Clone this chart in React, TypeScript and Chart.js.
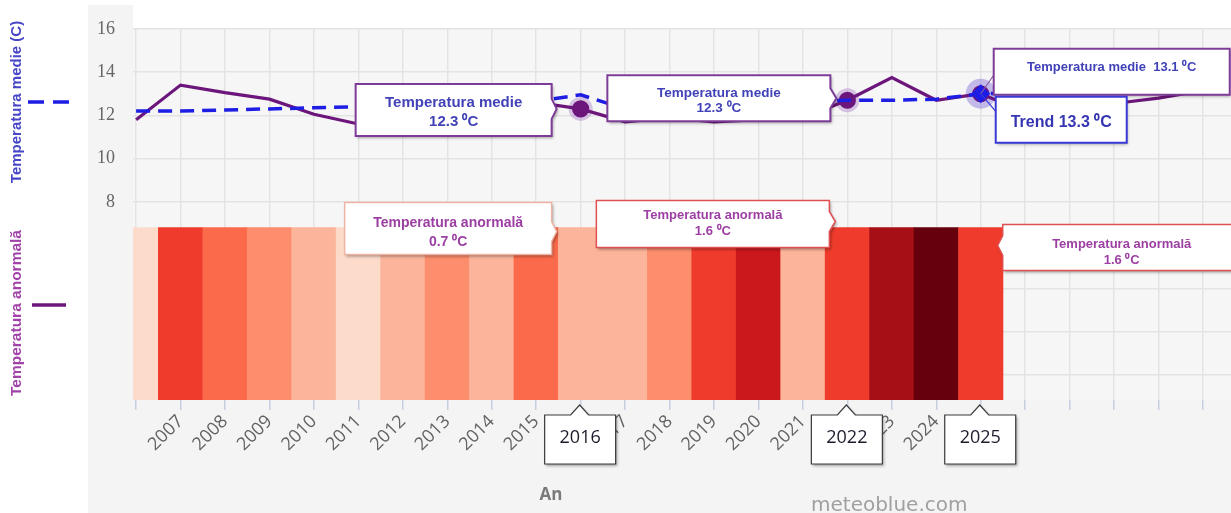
import React, { useEffect, useRef } from 'react';
import { Chart, registerables } from 'chart.js';

Chart.register(...registerables);

// ---------- data ----------
const years = [
  2006, 2007, 2008, 2009, 2010, 2011, 2012, 2013, 2014, 2015, 2016, 2017,
  2018, 2019, 2020, 2021, 2022, 2023, 2024, 2025, 2026, 2027, 2028, 2029, 2030,
];
const labelledYears = [
  2007, 2008, 2009, 2010, 2011, 2012, 2013, 2014, 2015, 2016, 2017, 2018,
  2019, 2020, 2021, 2022, 2023, 2024, 2025,
];
const meanTemp = [
  11.8, 13.4, 13.05, 12.75, 12.05, 11.6, 11.4, 11.9, 12.1, 12.6, 12.3, 11.7,
  11.9, 11.7, 11.8, 11.9, 12.7, 13.75, 12.7, 13.0, 12.15, 12.35, 12.55, 12.8, 13.15,
];
const trendTemp = [
  12.2, 12.2, 12.25, 12.3, 12.35, 12.4, 12.45, 12.5, 12.55, 12.65, 12.95, 12.3,
  12.4, 12.5, 12.55, 12.65, 12.7, 12.7, 12.75, 13.0, 13.05, 13.05, 13.1, 13.1, 13.15,
];
const stripeYears = [
  2006, 2007, 2008, 2009, 2010, 2011, 2012, 2013, 2014, 2015, 2016, 2017,
  2018, 2019, 2020, 2021, 2022, 2023, 2024, 2025,
];
const anomaly = [
  0.2, 1.6, 1.2, 0.9, 0.6, 0.2, 0.6, 0.9, 0.6, 1.2, 0.7, 0.7,
  0.9, 1.6, 1.9, 0.6, 1.6, 2.2, 2.6, 1.6,
];
const yTickLabels = [8, 10, 12, 14, 16];
const markedYears = [2016, 2022, 2025];

// ---------- scale settings ----------
const X_MIN = 2005.93;
const X_MAX = 2030.63;
const Y_MIN = -1.15;
const Y_MAX = 16;
const STRIPE_TOP = 6.82;

const PURPLE = '#6c167c';
const BLUE = '#1d1de4';
const MEDIE_TXT = '#4242b8';
const ANOM_TXT = '#9c3fa2';

function stripeColor(a: number): string {
  if (a < 0.4) return '#fddbcb';
  if (a < 0.8) return '#fcb59b';
  if (a < 1.0) return '#fc8d6d';
  if (a < 1.4) return '#fb6a4a';
  if (a < 1.8) return '#ef3b2c';
  if (a < 2.0) return '#cb181d';
  if (a < 2.4) return '#a50f15';
  return '#67000d';
}

type TextLine = { text: string; font: string; color: string; dy: number };
type Box = {
  l: number; t: number; r: number; b: number;
  side?: 'left' | 'right' | 'top';
  tx?: number; ty?: number; hw?: number;
  stroke: string; lw: number; shadow?: boolean; cx?: number;
};

function drawCallout(ctx: CanvasRenderingContext2D, o: Box, lines: TextLine[]) {
  const hw = o.hw ?? 9;
  ctx.save();
  ctx.beginPath();
  if (o.side === 'top' && o.tx !== undefined && o.ty !== undefined) {
    ctx.moveTo(o.l, o.t);
    ctx.lineTo(o.tx - hw, o.t);
    ctx.lineTo(o.tx, o.ty);
    ctx.lineTo(o.tx + hw, o.t);
    ctx.lineTo(o.r, o.t);
    ctx.lineTo(o.r, o.b);
    ctx.lineTo(o.l, o.b);
    ctx.closePath();
  } else if (o.side === 'right' && o.tx !== undefined && o.ty !== undefined) {
    ctx.moveTo(o.l, o.t);
    ctx.lineTo(o.r, o.t);
    ctx.lineTo(o.r, o.ty - hw);
    ctx.lineTo(o.tx, o.ty);
    ctx.lineTo(o.r, o.ty + hw);
    ctx.lineTo(o.r, o.b);
    ctx.lineTo(o.l, o.b);
    ctx.closePath();
  } else if (o.side === 'left' && o.tx !== undefined && o.ty !== undefined) {
    ctx.moveTo(o.l, o.t);
    ctx.lineTo(o.r, o.t);
    ctx.lineTo(o.r, o.b);
    ctx.lineTo(o.l, o.b);
    ctx.lineTo(o.l, o.ty + hw);
    ctx.lineTo(o.tx, o.ty);
    ctx.lineTo(o.l, o.ty - hw);
    ctx.closePath();
  } else {
    ctx.rect(o.l, o.t, o.r - o.l, o.b - o.t);
  }
  if (o.shadow) {
    ctx.shadowColor = 'rgba(0,0,0,0.35)';
    ctx.shadowBlur = 3;
    ctx.shadowOffsetX = 1.5;
    ctx.shadowOffsetY = 2;
  }
  ctx.fillStyle = '#ffffff';
  ctx.fill();
  ctx.shadowColor = 'transparent';
  ctx.lineWidth = o.lw;
  ctx.strokeStyle = o.stroke;
  ctx.stroke();
  const cx = o.cx ?? (o.l + o.r) / 2;
  ctx.textAlign = 'center';
  ctx.textBaseline = 'middle';
  for (const ln of lines) {
    ctx.font = ln.font;
    ctx.fillStyle = ln.color;
    ctx.fillText(ln.text, cx, o.t + ln.dy);
  }
  ctx.restore();
}

const decorPlugin = {
  id: 'decor',
  beforeDraw(chart: any) {
    const { ctx, width, height, chartArea: a } = chart;
    ctx.save();
    ctx.fillStyle = '#ffffff';
    ctx.fillRect(0, 0, width, height);
    ctx.fillStyle = '#f4f4f4';
    ctx.fillRect(88, 5, width - 88, height - 5);
    ctx.fillStyle = '#ffffff';
    ctx.fillRect(a.left, 0, width - a.left, a.top);
    ctx.fillStyle = '#f6f6f6';
    ctx.fillRect(a.left, a.top, a.right - a.left, a.bottom - a.top);
    ctx.restore();
  },
  beforeDatasetsDraw(chart: any) {
    const { ctx } = chart;
    const meta = chart.getDatasetMeta(1);
    ctx.save();
    for (const yr of markedYears) {
      const p = meta.data[years.indexOf(yr)];
      if (!p) continue;
      ctx.beginPath();
      ctx.fillStyle = yr === 2025 ? 'rgba(130,110,215,0.45)' : 'rgba(175,130,205,0.45)';
      ctx.arc(p.x, p.y, yr === 2025 ? 15 : 12, 0, Math.PI * 2);
      ctx.fill();
    }
    ctx.restore();
  },
  afterDraw(chart: any) {
    const { ctx, chartArea: a } = chart;
    const xs = chart.scales.x;
    const meanMeta = chart.getDatasetMeta(1);
    const trendMeta = chart.getDatasetMeta(0);
    const barMeta = chart.getDatasetMeta(2);
    const mp = (yr: number) => meanMeta.data[years.indexOf(yr)];
    const tp = (yr: number) => trendMeta.data[years.indexOf(yr)];
    const bp = (yr: number) => barMeta.data[stripeYears.indexOf(yr)];

    const fB = (s: number) => `bold ${s}px "Liberation Sans", Arial, sans-serif`;

    // leader lines at 2025
    const m25 = mp(2025);
    const t25 = tp(2025);
    ctx.save();
    ctx.lineWidth = 1.2;
    ctx.strokeStyle = '#8a5aa8';
    ctx.beginPath();
    ctx.moveTo(m25.x, m25.y);
    ctx.lineTo(m25.x + 14, m25.y - 20);
    ctx.stroke();
    ctx.strokeStyle = '#3a3ad8';
    ctx.beginPath();
    ctx.moveTo(t25.x, t25.y);
    ctx.lineTo(t25.x + 16, t25.y + 19);
    ctx.stroke();
    ctx.restore();

    // mean temperature callouts
    const m16 = mp(2016);
    drawCallout(ctx, {
      l: m16.x - 225, r: m16.x - 29, t: m16.y - 25, b: m16.y + 27,
      side: 'right', tx: m16.x - 24, ty: m16.y, hw: 10,
      stroke: '#7d3c98', lw: 2, shadow: true,
    }, [
      { text: 'Temperatura medie', font: fB(15), color: MEDIE_TXT, dy: 19 },
      { text: '12.3 ⁰C', font: fB(15), color: MEDIE_TXT, dy: 38 },
    ]);

    const m22 = mp(2022);
    drawCallout(ctx, {
      l: m22.x - 240, r: m22.x - 17, t: m22.y - 25, b: m22.y + 21,
      side: 'right', tx: m22.x - 11, ty: m22.y - 2, hw: 10,
      stroke: '#7d3c98', lw: 2, shadow: true,
    }, [
      { text: 'Temperatura medie', font: fB(13.5), color: MEDIE_TXT, dy: 18 },
      { text: '12.3 ⁰C', font: fB(13.5), color: MEDIE_TXT, dy: 33 },
    ]);

    drawCallout(ctx, {
      l: m25.x + 13, r: m25.x + 249, t: m25.y - 45, b: m25.y + 1,
      stroke: '#7d3c98', lw: 2, shadow: true,
    }, [
      { text: 'Temperatura medie  13.1 ⁰C', font: fB(13), color: MEDIE_TXT, dy: 19 },
    ]);

    drawCallout(ctx, {
      l: t25.x + 15, r: t25.x + 146, t: t25.y + 3, b: t25.y + 49,
      stroke: '#3a3ad8', lw: 2, shadow: true,
    }, [
      { text: 'Trend 13.3 ⁰C', font: fB(16), color: '#3636b4', dy: 26 },
    ]);

    // anomaly callouts
    const b16 = bp(2016);
    drawCallout(ctx, {
      l: b16.x - 236, r: b16.x - 29, t: b16.y - 25, b: b16.y + 27,
      side: 'right', tx: b16.x - 24, ty: b16.y + 4, hw: 10,
      stroke: '#f0b4a4', lw: 1.5, shadow: true,
    }, [
      { text: 'Temperatura anormală', font: fB(14), color: ANOM_TXT, dy: 21 },
      { text: '0.7 ⁰C', font: fB(14), color: ANOM_TXT, dy: 40 },
    ]);

    const b22 = bp(2022);
    drawCallout(ctx, {
      l: b22.x - 251, r: b22.x - 18, t: b22.y - 27, b: b22.y + 20,
      side: 'right', tx: b22.x - 12, ty: b22.y - 6, hw: 10,
      stroke: '#e05050', lw: 1.5, shadow: true,
    }, [
      { text: 'Temperatura anormală', font: fB(13), color: ANOM_TXT, dy: 15 },
      { text: '1.6 ⁰C', font: fB(13), color: ANOM_TXT, dy: 31 },
    ]);

    const b25 = bp(2025);
    drawCallout(ctx, {
      l: b25.x + 22, r: b25.x + 252, t: b25.y - 3, b: b25.y + 43,
      side: 'left', tx: b25.x + 17, ty: b25.y + 18, hw: 10,
      stroke: '#e05050', lw: 1.5, shadow: true, cx: b25.x + 141,
    }, [
      { text: 'Temperatura anormală', font: fB(13), color: ANOM_TXT, dy: 20 },
      { text: '1.6 ⁰C', font: fB(13), color: ANOM_TXT, dy: 36 },
    ]);

    // year callouts on the x axis
    for (const yr of markedYears) {
      const x = xs.getPixelForValue(yr);
      drawCallout(ctx, {
        l: x - 36, r: x + 35, t: a.bottom + 15, b: a.bottom + 64,
        side: 'top', tx: x - 1, ty: a.bottom + 5, hw: 9,
        stroke: '#3a3a3a', lw: 1.2, shadow: true,
      }, [
        { text: String(yr), font: '18px "Open Sans", sans-serif', color: '#1c1c2c', dy: 23 },
      ]);
    }

    // left axis titles and legend symbols
    ctx.save();
    ctx.textAlign = 'center';
    ctx.textBaseline = 'middle';
    ctx.translate(17, 102);
    ctx.rotate(-Math.PI / 2);
    ctx.font = fB(15);
    ctx.fillStyle = '#4646c6';
    ctx.fillText('Temperatura medie (C)', 0, 0);
    ctx.restore();

    ctx.save();
    ctx.textAlign = 'center';
    ctx.textBaseline = 'middle';
    ctx.translate(17, 313);
    ctx.rotate(-Math.PI / 2);
    ctx.font = fB(15.5);
    ctx.fillStyle = '#a042a8';
    ctx.fillText('Temperatura anormală', 0, 0);
    ctx.restore();

    ctx.save();
    ctx.lineWidth = 3.5;
    ctx.strokeStyle = BLUE;
    ctx.setLineDash([16, 9]);
    ctx.beginPath();
    ctx.moveTo(28, 102);
    ctx.lineTo(70, 102);
    ctx.stroke();
    ctx.setLineDash([]);
    ctx.strokeStyle = PURPLE;
    ctx.beginPath();
    ctx.moveTo(32, 305);
    ctx.lineTo(66, 305);
    ctx.stroke();
    ctx.restore();

    // x axis title and credit
    ctx.save();
    ctx.textAlign = 'center';
    ctx.textBaseline = 'middle';
    ctx.font = 'bold 17px "Open Sans", sans-serif';
    ctx.fillStyle = '#7a7a7a';
    ctx.fillText('An', 551, 495);
    ctx.font = '20px "DejaVu Sans", sans-serif';
    ctx.fillStyle = '#a0a0a0';
    ctx.textAlign = 'left';
    ctx.fillText('meteoblue.com', 811, 506);
    ctx.restore();
  },
};

export default function App() {
  const canvasRef = useRef<HTMLCanvasElement | null>(null);

  useEffect(() => {
    if (!canvasRef.current) return;
    const chart = new Chart(canvasRef.current, {
      type: 'bar',
      data: {
        datasets: [
          {
            type: 'line',
            label: 'Trend',
            data: years.map((x, i) => ({ x, y: trendTemp[i] })),
            borderColor: BLUE,
            borderWidth: 3.5,
            borderDash: [14, 8],
            pointRadius: years.map((y) => (y === 2025 ? 7 : 0)),
            pointStyle: 'rectRot',
            pointBackgroundColor: BLUE,
            pointBorderColor: BLUE,
            tension: 0,
            order: 1,
          } as any,
          {
            type: 'line',
            label: 'Temperatura medie',
            data: years.map((x, i) => ({ x, y: meanTemp[i] })),
            borderColor: PURPLE,
            borderWidth: 3.2,
            pointRadius: years.map((y) => (markedYears.includes(y) ? 7 : 0)),
            pointBackgroundColor: PURPLE,
            pointBorderColor: PURPLE,
            tension: 0,
            order: 2,
          } as any,
          {
            type: 'bar',
            label: 'Temperatura anormală',
            data: stripeYears.map((x) => ({ x, y: [Y_MIN, STRIPE_TOP] })),
            backgroundColor: anomaly.map(stripeColor),
            borderWidth: 0,
            categoryPercentage: 1,
            barPercentage: 1,
            clip: 0,
            order: 3,
          } as any,
        ],
      },
      options: {
        animation: false,
        responsive: false,
        events: [],
        layout: { padding: { left: 88, top: 23.5, right: 0, bottom: 0 } },
        plugins: {
          legend: { display: false },
          tooltip: { enabled: false },
        },
        scales: {
          x: {
            type: 'linear',
            min: X_MIN,
            max: X_MAX,
            offset: false,
            grid: {
              offset: false,
              color: '#e3e3e3',
              lineWidth: 1.5,
              tickColor: '#c6cee0',
              tickLength: 10,
            },
            border: { display: false },
            ticks: {
              stepSize: 1,
              includeBounds: false,
              maxTicksLimit: 40,
              autoSkip: false,
              minRotation: 45,
              maxRotation: 45,
              padding: 1,
              color: '#626262',
              font: { family: '"Open Sans", sans-serif', size: 18 },
              callback: (v: any) => (labelledYears.includes(Number(v)) ? String(v) : ''),
            },
            afterFit: (s: any) => { s.height = 113; },
          } as any,
          y: {
            type: 'linear',
            min: Y_MIN,
            max: Y_MAX,
            grid: { color: '#e3e3e3', lineWidth: 1.5, drawTicks: false },
            border: { display: false },
            ticks: {
              stepSize: 2,
              includeBounds: false,
              padding: 18,
              color: '#666666',
              font: { family: '"Liberation Serif", serif', size: 18 },
              callback: (v: any) => (yTickLabels.includes(Number(v)) ? String(v) : ''),
            },
            afterFit: (s: any) => { s.width = 45; },
          } as any,
        },
      },
      plugins: [decorPlugin],
    });
    return () => chart.destroy();
  }, []);

  return (
    <div style={{ position: 'absolute', left: 0, top: 0, width: 1231, height: 513 }}>
      <canvas ref={canvasRef} width={1231} height={513} style={{ width: 1231, height: 513 }} />
    </div>
  );
}
